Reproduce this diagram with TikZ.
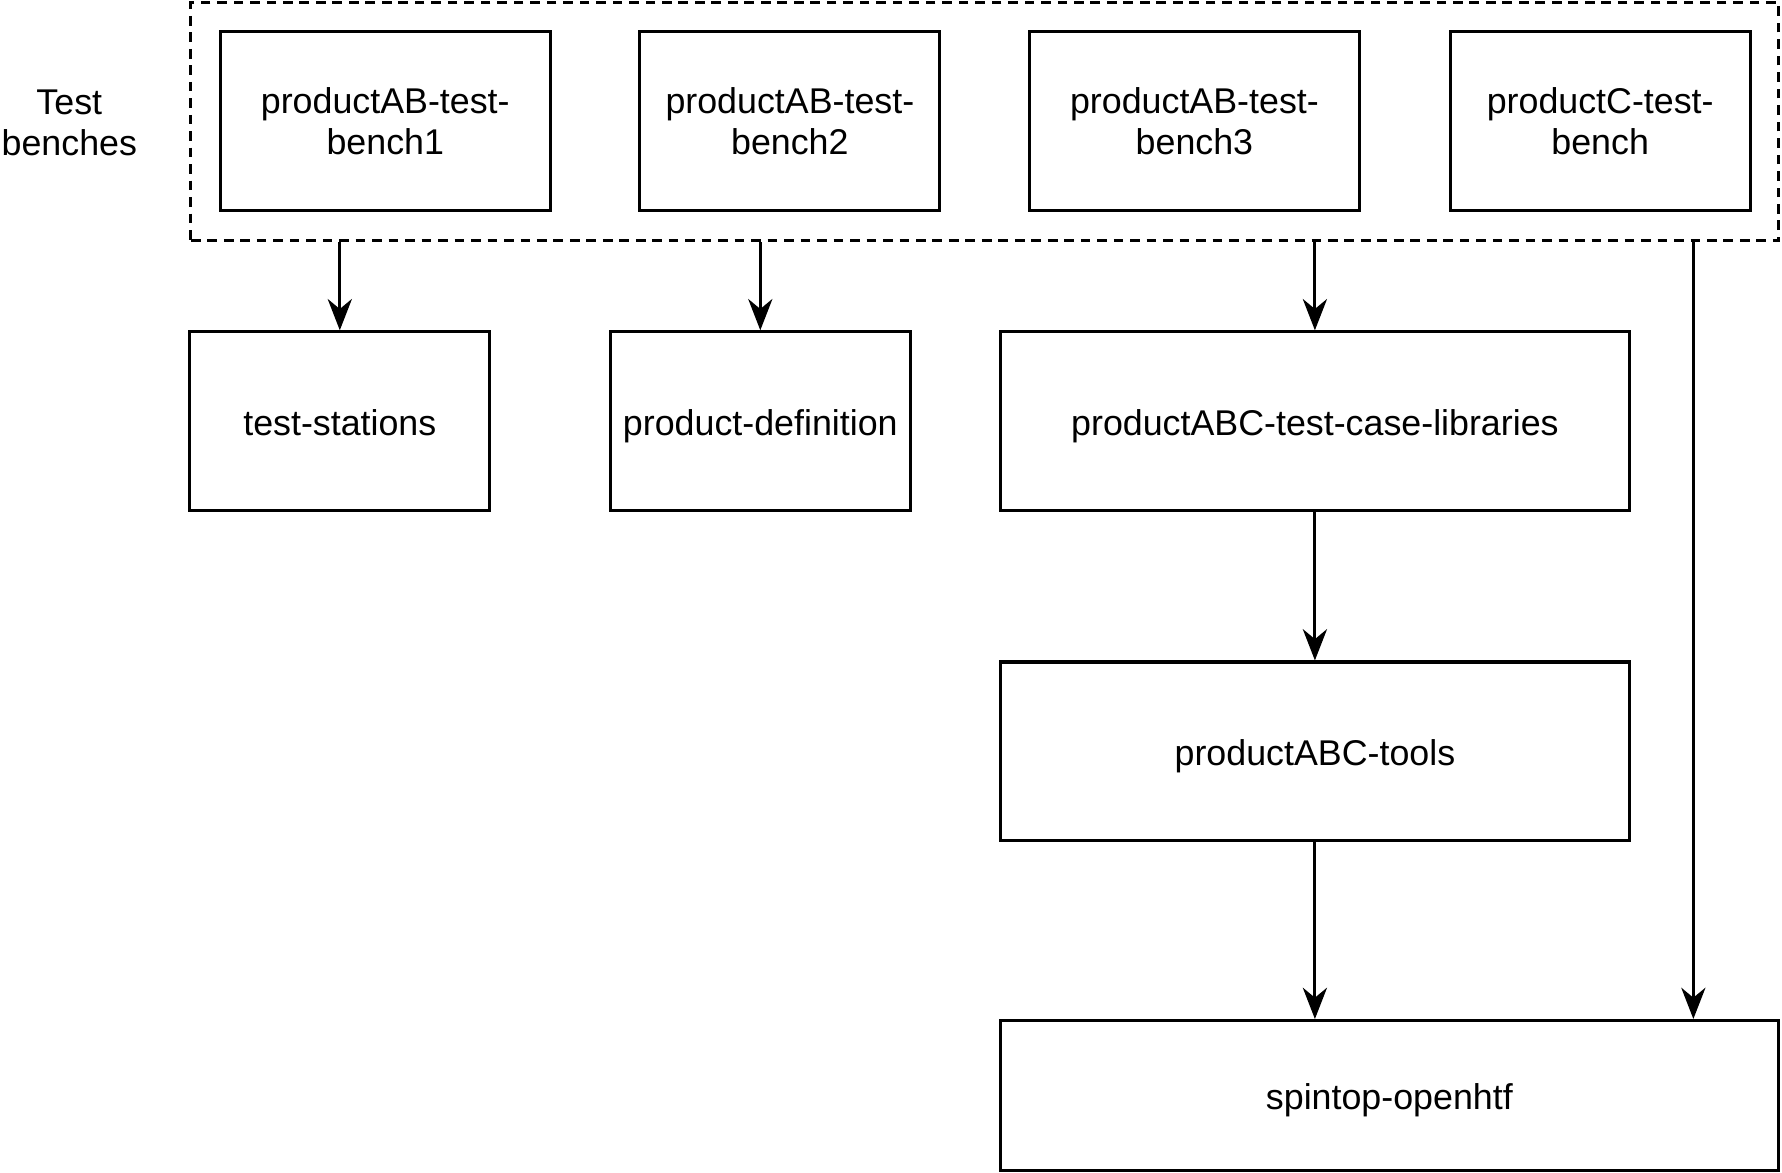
\documentclass[tikz,border=0pt]{standalone}
\usepackage{fontspec}
\setmainfont{Liberation Sans}
\usetikzlibrary{arrows.meta,positioning}

\begin{document}
\begin{tikzpicture}
		[x=0.4pt,y=-0.4pt,line width=1.1pt,
		every node/.style={font=\fontsize{12.6}{14.4}\selectfont,align=center,inner sep=0pt},
		main node/.style={shape=rectangle,draw,minimum height=62.8pt},
		one line/.style={text height=12pt,text depth=2.1pt},
		group node/.style={shape=rectangle,draw,dash pattern=on 3.4pt off 2.4pt,minimum width=558.8pt,minimum height=84pt},
		dep/.style={-{Stealth[length=11pt,width=8.5pt,inset=3.5pt]}}
		]
		
		\useasboundingbox (0,0) rectangle (1568,1032);
		
		\node [group node] (benches) at (866.5,107) {};
		\node (lbl) at (61,108) {Test\\benches};
		
		\node [main node,minimum width=116pt] (bench1) at (339,106.5) {productAB-test-\\bench1};
		\node [main node,minimum width=105.6pt] (bench2) at (695,106.5) {productAB-test-\\bench2};
		\node [main node,minimum width=116pt] (bench3) at (1051,106.5) {productAB-test-\\bench3};
		\node [main node,minimum width=105.6pt] (benchC) at (1408,106.5) {productC-test-\\bench};
		
		\node [main node,one line,minimum width=105.6pt] (stations) at (299,370.5) {test-stations};
		\node [main node,one line,minimum width=105.6pt] (definition) at (669,370.5) {product-definition};
		\node [main node,one line,minimum width=221.6pt] (libraries) at (1157,370.5) {productABC-test-case-libraries};
		\node [main node,one line,minimum width=221.6pt] (tools) at (1157,661) {productABC-tools};
		\node [main node,one line,minimum width=274pt,minimum height=52.8pt] (spintop) at (1222.5,964) {spintop-openhtf};
		
		\coordinate (drop) at (1490,212);
		
		\path[dep]
		(benches.south -| stations) edge (stations)
		
		(benches.south -| definition) edge (definition)
		
		(benches.south -| libraries) edge (libraries)
		
		(libraries) edge (tools)
		
		(tools.south) edge (tools.south |- spintop.north)
		
		(drop) edge (drop |- spintop.north)
		;
		
\end{tikzpicture}
\end{document}
